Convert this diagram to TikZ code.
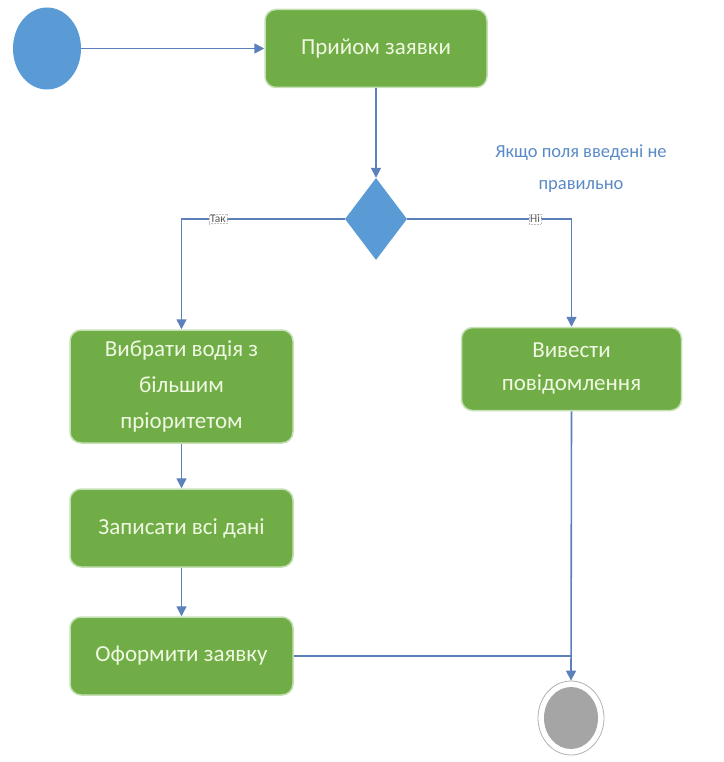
\documentclass[tikz,border=0pt]{standalone}
\usepackage{fontspec}
\setmainfont{Carlito}
\usetikzlibrary{shapes.geometric,arrows.meta}
\definecolor{actgreen}{RGB}{112,173,71}
\definecolor{actedge}{RGB}{197,224,180}
\definecolor{acttext}{RGB}{240,248,226}
\definecolor{nodeblue}{RGB}{91,155,213}
\definecolor{flowline}{RGB}{92,128,186}
\definecolor{notetext}{RGB}{90,138,198}
\definecolor{endgray}{RGB}{165,165,165}
\tikzset{
  action/.style={draw=actedge, line width=1.5pt, fill=actgreen, rounded corners=11pt,
    text=acttext, font=\fontsize{23}{36}\selectfont, align=center, inner sep=0pt},
  flow/.style={draw=flowline, line width=1.6pt, -{Triangle[length=10pt,width=10pt]}},
  plainflow/.style={draw=flowline, line width=1.6pt},
  guard/.style={fill=white, draw=black!25, densely dotted, line width=0.5pt,
    text=black!65, font=\fontsize{11.5}{13}\selectfont, inner sep=1pt}
}
\begin{document}
\begin{tikzpicture}[x=1pt,y=-1pt]
\useasboundingbox (0,0) rectangle (723,762);

% start and end states
\node[ellipse, fill=nodeblue, minimum width=68pt, minimum height=82pt, inner sep=0pt] (start) at (47,48.5) {};
\node[ellipse, draw=black!30, line width=0.8pt, fill=white, minimum width=66pt, minimum height=74pt, inner sep=0pt] (end) at (571,718) {};
\node[ellipse, fill=endgray, minimum width=54pt, minimum height=62pt, inner sep=0pt] (endcore) at (end.center) {};

% actions
\node[action, minimum width=222pt, minimum height=78pt] (recv) at (376,48.5) {Прийом заявки};
\node[action, minimum width=223pt, minimum height=113pt] (pick) at (181.5,386.5) {\raisebox{-4pt}{\parbox{200pt}{\centering Вибрати водія з\\більшим\\пріоритетом}}};
\node[action, minimum width=220pt, minimum height=83pt] (msg) at (571.5,369) {\raisebox{-3pt}{\parbox{200pt}{\centering\baselineskip=33pt Вивести\\повідомлення}}};
\node[action, minimum width=223pt, minimum height=78pt] (save) at (181.5,528) {Записати всі дані};
\node[action, minimum width=223pt, minimum height=78pt] (form) at (181.5,656) {Оформити заявку};

% decision
\node[diamond, fill=nodeblue, minimum width=62pt, minimum height=82pt, inner sep=0pt] (check) at (376,219) {};

% note above the right branch
\node[text=notetext, font=\fontsize{18.5}{32}\selectfont, align=center] (note) at (581,169) {Якщо поля введені не\\правильно};

% connectors
\draw[flow] (start.east) -- (recv.west);
\draw[flow] (recv.south) -- (check.north);
\draw[flow] (check.west) -| (pick.north);
\draw[flow] (check.east) -| (msg.north);
\draw[flow] (pick.south) -- (save.north);
\draw[flow] (save.south) -- (form.north);
\draw[flow] (msg.south) -- (end.north);
\draw[plainflow] (form.east) -- (form.east -| end.north);

% guards
\node[guard] (yes) at (218,219) {Так};
\node[guard] (no) at (535,219) {Ні};
\end{tikzpicture}
\end{document}
